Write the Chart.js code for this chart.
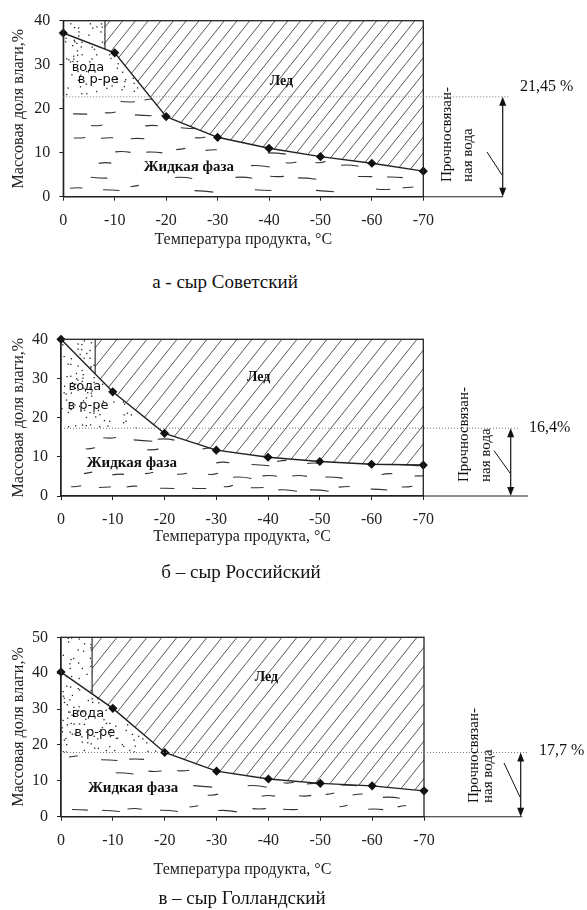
<!DOCTYPE html>
<html>
<head>
<meta charset="utf-8">
<script src="https://cdn.jsdelivr.net/npm/chart.js@4.4.0/dist/chart.umd.min.js"></script>
<style>
  body { margin: 0; background: #fff; width: 587px; height: 910px; position: relative; overflow: hidden; }
  canvas { position: absolute; left: 0; }
  .cap { position: absolute; font-family: "Liberation Serif", serif; font-size: 19px; color: #111;
         transform: translate(-50%, -50%); white-space: nowrap; }
</style>
</head>
<body>
<canvas id="c0" width="587" height="270" style="top:0px"></canvas>
<canvas id="c1" width="587" height="270" style="top:300px"></canvas>
<canvas id="c2" width="587" height="290" style="top:600px"></canvas>
<div class="cap" style="left:225px;top:282px">а - сыр Советский</div>
<div class="cap" style="left:241px;top:572px">б – сыр Российский</div>
<div class="cap" style="left:242px;top:898px">в – сыр Голландский</div>
<script>
// температура продукта, °C
const temps = [0, -10, -20, -30, -40, -50, -60, -70];
// массовая доля влаги в жидкой фазе, %
const moistSov = [37.2, 32.7, 18.2, 13.5, 11.0, 9.1, 7.6, 5.8];
const moistRus = [40.0, 26.6, 16.0, 11.7, 9.9, 8.8, 8.1, 7.9];
const moistGol = [40.3, 30.2, 17.9, 12.7, 10.5, 9.3, 8.6, 7.2];
// уровень прочносвязанной воды (как нарисовано) и подписи
const boundLevels = [22.7, 17.3, 17.9];
const boundLabels = ['21,45 %', '16,4%', '17,7 %'];
// граница области "вода в р-ре"
const solutionEdge = [-8.1, -6.6, -6.0];
const yMaxes = [40, 40, 50];

const SERIF = '"Liberation Serif", "Times New Roman", serif';
const XH = 70; // fixed x-axis box height

const panels = [
  { id: 'c0', h: 270, ys: moistSov, area: {l: 63.3, t: 20.7, r: 423.3, b: 196.7}, titlePad: 17,
    ice: [-42.4, 26.1], liquid: [-24.4, 6.75], sol1: [-4.8, 29.3], sol2: [-6.8, 26.5],
    arrowDx: 79.4, colDx: [23.4, 44.7], colBottom: 14.7, labelDx: 17.3, labelDy: -10,
    dotEnd: 7, baseEnd: 0.5, leader: [[-15.7, -44.7], [-0.7, -21.7]], hatch: 12.7 },
  { id: 'c1', h: 270, ys: moistRus, area: {l: 61, t: 39.3, r: 423.3, b: 196}, titlePad: 19.4,
    ice: [-38.2, 30.4], liquid: [-13.7, 8.4], sol1: [-4.6, 27.8], sol2: [-5.2, 23.0],
    arrowDx: 87.4, colDx: [41, 62.7], colBottom: 14, labelDx: 18.3, labelDy: -0.6,
    dotEnd: 7.3, baseEnd: 17.3, leader: [[-16.7, -45.3], [-0.7, -23]], hatch: 15 },
  { id: 'c2', h: 290, ys: moistGol, area: {l: 61, t: 37.3, r: 424, b: 216.7}, titlePad: 7.1,
    ice: [-39.6, 38.9], liquid: [-13.9, 8.0], sol1: [-5.2, 28.6], sol2: [-6.5, 23.3],
    arrowDx: 96.7, colDx: [50, 64], colBottom: 13.7, labelDx: 18.3, labelDy: -1.6,
    dotEnd: 6.3, baseEnd: 1.5, leader: [[-16.7, -53.7], [-0.7, -19.7]], hatch: 15 }
];

function curveAt(t, ys) {
  for (let i = 0; i < temps.length - 1; i++) {
    const a = temps[i], b = temps[i + 1];
    if (t <= a && t >= b) {
      const f = (a - t) / (a - b);
      return ys[i] + f * (ys[i + 1] - ys[i]);
    }
  }
  return ys[ys.length - 1];
}
function crossAt(level, ys) {
  for (let i = 0; i < ys.length - 1; i++) {
    if (ys[i] >= level && ys[i + 1] <= level) {
      const f = (ys[i] - level) / (ys[i] - ys[i + 1]);
      return temps[i] + f * (temps[i + 1] - temps[i]);
    }
  }
  return temps[temps.length - 1];
}
function hash(i, j) {
  const s = Math.sin(i * 12.9898 + j * 78.233) * 43758.5453;
  return s - Math.floor(s);
}
function pathOf(ctx, pts) {
  ctx.beginPath();
  pts.forEach((p, k) => k ? ctx.lineTo(p[0], p[1]) : ctx.moveTo(p[0], p[1]));
  ctx.closePath();
}

function decorPlugin(p, idx) {
  const ys = p.ys, bound = boundLevels[idx], edge = solutionEdge[idx], yMax = yMaxes[idx];
  const cross = crossAt(bound, ys);
  return {
    id: 'decor' + idx,
    beforeDatasetsDraw(chart) {
      const {ctx, chartArea: ca} = chart;
      const X = v => chart.scales.x.getPixelForValue(v);
      const Y = v => chart.scales.y.getPixelForValue(v);
      const P = (t, m) => [X(t), Y(m)];

      // лед - штриховка
      const ice = [P(edge, yMax), P(-70, yMax)];
      for (let i = temps.length - 1; i >= 0; i--) if (temps[i] < edge) ice.push(P(temps[i], ys[i]));
      ice.push(P(edge, curveAt(edge, ys)));
      ctx.save();
      pathOf(ctx, ice); ctx.clip();
      ctx.strokeStyle = '#444'; ctx.lineWidth = 0.9;
      const hgt = ca.bottom - ca.top, k = 1.25;
      for (let s = ca.left - 4; s < ca.right + hgt / k + 10; s += p.hatch) {
        ctx.beginPath();
        ctx.moveTo(s, ca.top);
        ctx.lineTo(s - hgt / k, ca.bottom);
        ctx.stroke();
      }
      ctx.restore();

      // вода в растворе - точки
      const sol = [P(0, yMax), P(edge, yMax), P(edge, curveAt(edge, ys))];
      temps.forEach((t, i) => { if (t < edge && t > cross) sol.push(P(t, ys[i])); });
      sol.push(P(cross, bound), P(0, bound));
      ctx.save();
      pathOf(ctx, sol); ctx.clip();
      ctx.fillStyle = '#222';
      for (let gx = ca.left; gx < X(cross) + 4; gx += 4) {
        for (let gy = ca.top; gy < Y(bound) + 4; gy += 4) {
          const r = hash(gx + idx * 7, gy);
          if (r > 0.72) ctx.fillRect(gx + hash(gy, gx) * 3, gy + hash(gx * 3, gy * 2) * 3, 1.3, 1.3);
        }
      }
      ctx.restore();

      // жидкая фаза - черточки, кроме места под подписью
      const lx = X(p.liquid[0]), ly = Y(p.liquid[1]);
      const liq = [P(0, bound), P(cross, bound)];
      temps.forEach((t, i) => { if (t < cross) liq.push(P(t, ys[i])); });
      liq.push(P(-70, 0), P(0, 0));
      ctx.save();
      pathOf(ctx, liq); ctx.clip();
      ctx.strokeStyle = '#333'; ctx.lineWidth = 1.1;
      let row = 0;
      for (let gy = ca.bottom - 8; gy > ca.top; gy -= 12.5, row++) {
        for (let gx = ca.left + 8 + (row % 2) * 15; gx < ca.right; gx += 30) {
          const r1 = hash(gx + idx, gy), r2 = hash(gy + 3, gx);
          if (r1 < 0.2) continue;
          const len = 8 + r2 * 11;
          const x0 = gx + (r1 - 0.5) * 10, y0 = gy + (r2 - 0.5) * 4;
          if (x0 + len > lx - 54 && x0 < lx + 54 && Math.abs(y0 - ly) < 10) continue;
          ctx.beginPath();
          ctx.moveTo(x0, y0);
          ctx.quadraticCurveTo(x0 + len / 2, y0 - 2 + r1 * 3, x0 + len, y0 + (r2 - 0.5) * 3);
          ctx.stroke();
        }
      }
      ctx.restore();
    },
    afterDraw(chart) {
      const {ctx, chartArea: ca} = chart;
      const X = v => chart.scales.x.getPixelForValue(v);
      const Y = v => chart.scales.y.getPixelForValue(v);
      const yb = Y(bound);
      const ax = ca.right + p.arrowDx;
      ctx.save();
      // рамка
      ctx.strokeStyle = '#222'; ctx.lineWidth = 1.3;
      ctx.strokeRect(ca.left, ca.top, ca.right - ca.left, ca.bottom - ca.top);
      // граница раствора
      ctx.lineWidth = 1.1;
      ctx.beginPath(); ctx.moveTo(X(edge), ca.top); ctx.lineTo(X(edge), Y(curveAt(edge, ys))); ctx.stroke();
      // продолжение оси
      ctx.beginPath(); ctx.moveTo(ca.right, ca.bottom); ctx.lineTo(ax + p.baseEnd, ca.bottom); ctx.stroke();
      // пунктир уровня
      ctx.strokeStyle = '#777'; ctx.lineWidth = 1; ctx.setLineDash([1, 2]);
      ctx.beginPath(); ctx.moveTo(ca.left, yb); ctx.lineTo(ax + p.dotEnd, yb); ctx.stroke();
      ctx.setLineDash([]);
      // двойная стрелка
      ctx.strokeStyle = '#111'; ctx.fillStyle = '#111'; ctx.lineWidth = 1.2;
      ctx.beginPath(); ctx.moveTo(ax, yb + 4); ctx.lineTo(ax, ca.bottom - 4); ctx.stroke();
      ctx.beginPath(); ctx.moveTo(ax, yb); ctx.lineTo(ax - 3.5, yb + 9); ctx.lineTo(ax + 3.5, yb + 9); ctx.closePath(); ctx.fill();
      ctx.beginPath(); ctx.moveTo(ax, ca.bottom); ctx.lineTo(ax - 3.5, ca.bottom - 9); ctx.lineTo(ax + 3.5, ca.bottom - 9); ctx.closePath(); ctx.fill();
      // выноска
      ctx.lineWidth = 1;
      ctx.beginPath();
      ctx.moveTo(ax + p.leader[0][0], ca.bottom + p.leader[0][1]);
      ctx.lineTo(ax + p.leader[1][0], ca.bottom + p.leader[1][1]);
      ctx.stroke();
      // повернутая подпись
      ctx.font = '15px ' + SERIF; ctx.textBaseline = 'middle'; ctx.textAlign = 'left';
      ['Прочносвязан-', 'ная вода'].forEach((s, i) => {
        ctx.save();
        ctx.translate(ca.right + p.colDx[i], ca.bottom - p.colBottom);
        ctx.rotate(-Math.PI / 2);
        ctx.fillText(s, 0, 0);
        ctx.restore();
      });
      ctx.font = '16px ' + SERIF;
      ctx.fillText(boundLabels[idx], ax + p.labelDx, yb + p.labelDy);
      // подписи областей
      ctx.textAlign = 'center';
      ctx.font = 'bold 14px ' + SERIF;
      ctx.fillText('Лед', X(p.ice[0]), Y(p.ice[1]));
      ctx.font = 'bold 15px ' + SERIF;
      ctx.fillText('Жидкая фаза', X(p.liquid[0]), Y(p.liquid[1]));
      ctx.font = '13px "DejaVu Sans", sans-serif';
      ctx.fillText('вода', X(p.sol1[0]), Y(p.sol1[1]));
      ctx.fillText('в р-ре', X(p.sol2[0]), Y(p.sol2[1]));
      ctx.restore();
    }
  };
}

panels.forEach((p, idx) => {
  const a = p.area;
  new Chart(document.getElementById(p.id), {
    type: 'line',
    data: {
      datasets: [{
        data: temps.map((t, i) => ({x: t, y: p.ys[i]})),
        borderColor: '#222',
        borderWidth: 1.4,
        tension: 0,
        fill: false,
        pointStyle: 'rectRot',
        pointRadius: 3.6,
        pointBackgroundColor: '#111',
        pointBorderColor: '#111',
        clip: false
      }]
    },
    options: {
      responsive: false,
      animation: false,
      events: [],
      layout: { padding: { left: 0, top: a.t, right: 587 - a.r, bottom: p.h - a.b - XH } },
      plugins: { legend: { display: false }, tooltip: { enabled: false } },
      scales: {
        x: {
          type: 'linear', min: -70, max: 0, reverse: true,
          afterFit: s => { s.height = XH; },
          grid: { drawOnChartArea: false, tickLength: 4, color: '#222' },
          border: { color: '#222', width: 1.3 },
          ticks: { stepSize: 10, padding: 10, color: '#222', font: { family: SERIF, size: 16 },
                   callback: v => String(v) },
          title: { display: true, text: 'Температура продукта, °С', color: '#222',
                   font: { family: SERIF, size: 16 }, padding: { top: 0, bottom: p.titlePad } }
        },
        y: {
          min: 0, max: yMaxes[idx],
          afterFit: s => { s.width = a.l; },
          grid: { drawOnChartArea: false, tickLength: 4, color: '#222' },
          border: { color: '#222', width: 1.3 },
          ticks: { stepSize: 10, padding: 9, color: '#222', font: { family: SERIF, size: 16 } },
          title: { display: true, text: 'Массовая доля влаги,%', color: '#222',
                   font: { family: SERIF, size: 16 }, padding: { top: 8.7, bottom: 0 } }
        }
      }
    },
    plugins: [decorPlugin(p, idx)]
  });
});
</script>
</body>
</html>
